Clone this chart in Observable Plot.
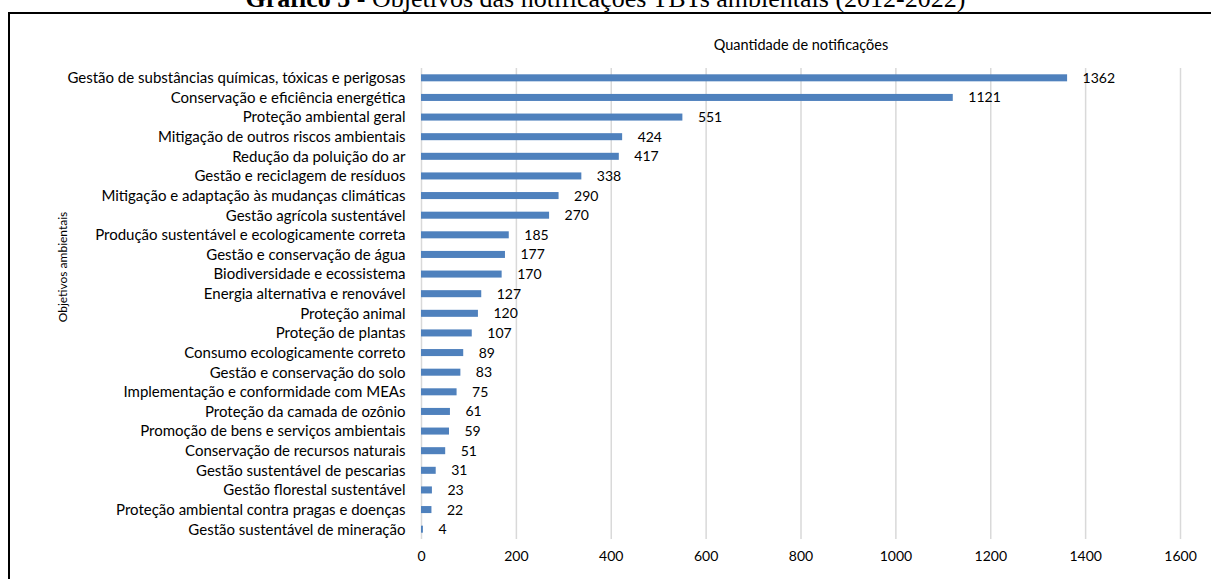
<!DOCTYPE html>
<html>
<head>
<meta charset="utf-8">
<script src="https://cdn.jsdelivr.net/npm/d3@7"></script>
<script src="https://cdn.jsdelivr.net/npm/@observablehq/plot@0.6"></script>
<style>
  html, body { margin: 0; padding: 0; background: #fff; overflow: hidden; }
  #title {
    position: relative; height: 10px; overflow: visible;
    font-family: "Liberation Serif", "Times New Roman", serif; font-size: 26px; line-height: 26px; color: #000;
  }
  #title span.t { position: absolute; left: 0; right: 0; top: -14px; text-align: center; white-space: nowrap; }
  #frame {
    margin-left: 8px; margin-top: 2px;
    border-left: 2px solid #000; border-top: 2px solid #000;
    width: 1201px; height: 565px;
  }
  #frame svg { display: block; }
</style>
</head>
<body>
<div id="title"><span class="t"><b>Gráfico 5 -</b> Objetivos das notificações TBTs ambientais (2012-2022)</span></div>
<div id="frame"></div>
<script>
// Environmental objectives of TBT notifications, ordered from most to least frequent
const categories = [
  "Gestão de substâncias químicas, tóxicas e perigosas",
  "Conservação e eficiência energética",
  "Proteção ambiental geral",
  "Mitigação de outros riscos ambientais",
  "Redução da poluição do ar",
  "Gestão e reciclagem de resíduos",
  "Mitigação e adaptação às mudanças climáticas",
  "Gestão agrícola sustentável",
  "Produção sustentável e ecologicamente correta",
  "Gestão e conservação de água",
  "Biodiversidade e ecossistema",
  "Energia alternativa e renovável",
  "Proteção animal",
  "Proteção de plantas",
  "Consumo ecologicamente correto",
  "Gestão e conservação do solo",
  "Implementação e conformidade com MEAs",
  "Proteção da camada de ozônio",
  "Promoção de bens e serviços ambientais",
  "Conservação de recursos naturais",
  "Gestão sustentável de pescarias",
  "Gestão florestal sustentável",
  "Proteção ambiental contra pragas e doenças",
  "Gestão sustentável de mineração"
];

// Number of notifications per objective
const values = [1362, 1121, 551, 424, 417, 338, 290, 270, 185, 177, 170, 127, 120, 107, 89, 83, 75, 61, 59, 51, 31, 23, 22, 4];

// Horizontal axis ticks
const xTicks = [0, 200, 400, 600, 800, 1000, 1200, 1400, 1600];

const xTitle = "Quantidade de notificações";
const yTitle = "Objetivos ambientais";

const data = categories.map((c, i) => ({objetivo: c, total: values[i]}));

const chart = Plot.plot({
  width: 1201,
  height: 565,
  marginLeft: 411,
  marginRight: 31,
  marginTop: 54,
  marginBottom: 40,
  style: {fontFamily: "Lato, 'Open Sans', sans-serif", fontSize: "14px", color: "#000", background: "transparent"},
  x: {domain: [0, 1600], ticks: xTicks, label: null},
  y: {domain: categories, padding: 0, round: false, label: null},
  marks: [
    Plot.gridX(xTicks, {stroke: "#d9d9d9", strokeOpacity: 1, strokeWidth: 1.5}),
    Plot.barX(data, {x: "total", y: "objetivo", fill: "#4f81bd", insetTop: 6.3, insetBottom: 6.3}),
    Plot.text(data, {x: "total", y: "objetivo", text: d => String(d.total), textAnchor: "start", dx: 15, fill: "#000"}),
    Plot.axisX(xTicks, {tickSize: 0, tickPadding: 12, tickFormat: d => String(d), label: null}),
    Plot.axisY({tickSize: 0, tickPadding: 16, fontSize: 15, label: null}),
    Plot.text([xTitle], {frameAnchor: "top", lineAnchor: "middle", textAnchor: "middle", dy: -23, fontSize: 14.5, fill: "#000"}),
    Plot.text([yTitle], {frameAnchor: "left", textAnchor: "middle", lineAnchor: "middle", rotate: -90, dx: -358, dy: -37, fontSize: 12, fill: "#000"})
  ]
});

document.getElementById("frame").appendChild(chart);
</script>
</body>
</html>
